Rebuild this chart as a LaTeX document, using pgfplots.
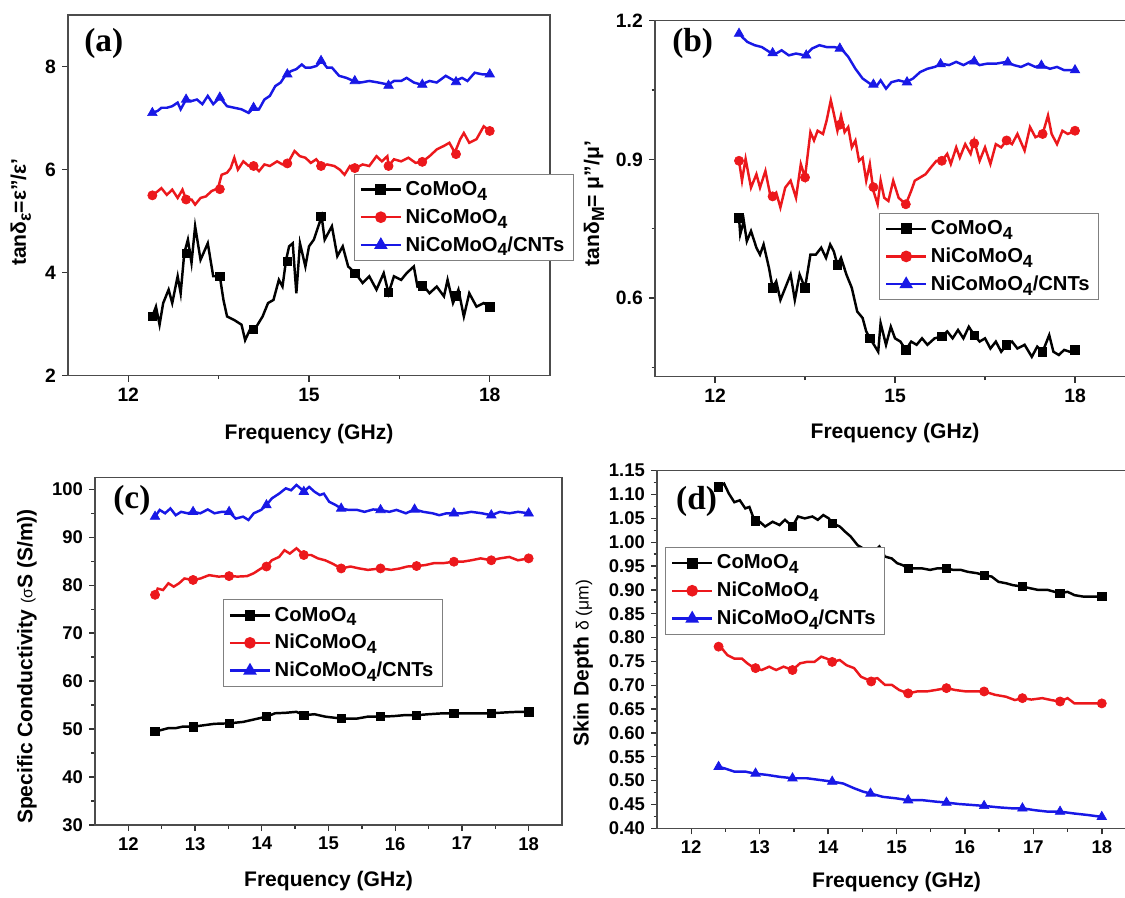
\documentclass[border=0pt]{standalone}
\usepackage{fontspec}
\setmainfont{Liberation Sans}
\newfontfamily\tnr{Liberation Serif}
\usepackage{pgfplots}
\pgfplotsset{compat=1.18}

\definecolor{cred}{RGB}{236,24,28}
\definecolor{cblue}{RGB}{24,24,230}
\newcommand{\sub}[1]{\raisebox{-0.45ex}{\fontsize{10}{10}\selectfont #1}}

\pgfplotsset{
  panel/.style={
    scale only axis,
    axis line style={line width=0.8pt, black!70},
    tick style={line width=0.8pt, black!80},
    tick align=outside,
    xtick pos=bottom, ytick pos=left,
    major tick length=0.12cm, minor tick length=0.07cm,
    tick label style={font=\bfseries\fontsize{11}{11}\selectfont},
    label style={font=\bfseries\fontsize{12}{12}\selectfont},
    /pgf/number format/assume math mode=true,
    xlabel={Frequency (GHz)},
    legend cell align=left,
    legend style={draw=black!50, line width=0.6pt, anchor=north west,
      font=\bfseries\fontsize{11.5}{12}\selectfont,
      row sep=2pt, inner xsep=3pt, inner ysep=2pt},
    legend image code/.code={\draw[mark repeat=2,mark phase=2,#1]
      plot coordinates {(0cm,0cm) (0.4cm,0cm) (0.8cm,0cm)};},
  },
  lk/.style={black, line width=1.4pt, mark=none},
  lr/.style={cred, line width=1.4pt, mark=none},
  lb/.style={cblue, line width=1.4pt, mark=none},
  mk/.style={black, only marks, mark=square*, mark size=2.4pt},
  mr/.style={cred, only marks, mark=*, mark size=2.6pt},
  mb/.style={cblue, only marks, mark=triangle*, mark size=3.1pt},
}

\begin{document}
\begin{tikzpicture}
\useasboundingbox (0,0) rectangle (22.5,17.94);
\clip (0,0) rectangle (22.5,17.94);

% ---------------- (a) dielectric loss tangent
\begin{axis}[panel, at={(1.36cm,10.426cm)}, anchor=south west,
  width=9.64cm, height=7.214cm,
  xmin=11, xmax=19, ymin=2, ymax=9,
  xtick={12,15,18}, minor xtick={13.5,16.5},
  ytick={2,4,6,8},
  ylabel={tanδ\sub{ε}=ε"/ε'},
  xlabel style={at={(axis description cs:0.5,-0.161)}, anchor=center},
  ylabel style={at={(axis description cs:-0.098,0.453)}, anchor=center},
  legend style={at={(0.593,0.560)}},
]
\addlegendimage{lk, mark=square*, mark size=2.4pt}
\addlegendentry{CoMoO\sub{4}}
\addlegendimage{lr, mark=*, mark size=2.6pt}
\addlegendentry{NiCoMoO\sub{4}}
\addlegendimage{lb, mark=triangle*, mark size=3.1pt}
\addlegendentry{NiCoMoO\sub{4}/CNTs}
\addplot[lk, forget plot] coordinates {
(12.40,3.15)(12.46,3.34)(12.52,2.99)(12.58,3.41)(12.67,3.67)(12.73,3.41)(12.82,3.93)
(12.87,3.60)(12.93,4.38)(12.99,4.64)(13.05,4.19)(13.11,4.90)(13.20,4.25)(13.32,4.57)
(13.41,3.93)(13.52,3.93)(13.58,3.47)(13.64,3.15)(13.76,3.08)(13.88,2.99)(13.94,2.69)
(14.03,2.92)(14.11,2.92)(14.23,3.15)(14.32,3.41)(14.41,3.47)(14.50,3.86)(14.56,3.73)
(14.62,4.25)(14.67,4.51)(14.73,4.57)(14.79,3.60)(14.85,4.57)(14.94,4.12)(15.00,4.51)
(15.08,4.64)(15.21,5.09)(15.26,4.64)(15.38,4.90)(15.47,4.32)(15.56,4.51)(15.65,4.12)
(15.77,3.99)(15.89,3.80)(16.00,3.93)(16.12,3.67)(16.24,3.99)(16.32,3.60)(16.41,3.93)
(16.53,3.86)(16.62,3.99)(16.74,4.12)(16.80,3.73)(16.89,3.76)(17.00,3.60)(17.12,3.73)
(17.24,3.54)(17.30,3.86)(17.39,3.41)(17.48,3.67)(17.57,3.15)(17.66,3.60)(17.78,3.34)
(17.90,3.41)(18.00,3.34)};
\addplot[mk, forget plot] coordinates {
(12.40,3.15)(12.96,4.38)(13.52,3.93)(14.08,2.90)(14.64,4.22)(15.20,5.09)
(15.76,3.99)(16.32,3.62)(16.88,3.74)(17.44,3.55)(18.00,3.34)};
\addplot[lr, forget plot] coordinates {
(12.40,5.50)(12.49,5.58)(12.55,5.64)(12.64,5.51)(12.73,5.61)(12.82,5.45)(12.90,5.61)
(12.96,5.42)(13.05,5.42)(13.11,5.32)(13.20,5.45)(13.29,5.48)(13.38,5.58)(13.49,5.64)
(13.55,5.90)(13.64,5.94)(13.70,6.03)(13.76,6.23)(13.82,6.00)(13.91,6.16)(14.00,6.07)
(14.08,6.07)(14.17,5.97)(14.26,6.10)(14.35,6.07)(14.47,6.16)(14.56,6.10)(14.65,6.13)
(14.76,6.36)(14.85,6.26)(14.94,6.23)(15.03,6.13)(15.12,6.20)(15.21,6.07)(15.30,6.10)
(15.42,6.07)(15.51,6.00)(15.59,5.90)(15.68,6.07)(15.77,6.03)(15.89,6.10)(16.00,6.07)
(16.12,6.26)(16.21,6.16)(16.30,6.26)(16.32,6.07)(16.41,6.20)(16.53,6.16)(16.65,6.23)
(16.77,6.13)(16.89,6.16)(17.00,6.26)(17.12,6.39)(17.24,6.46)(17.33,6.52)(17.42,6.33)
(17.51,6.59)(17.57,6.71)(17.66,6.52)(17.78,6.59)(17.90,6.84)(18.00,6.75)};
\addplot[mr, forget plot] coordinates {
(12.40,5.50)(12.96,5.42)(13.52,5.62)(14.08,6.07)(14.64,6.12)(15.20,6.07)
(15.76,6.03)(16.32,6.07)(16.88,6.15)(17.44,6.30)(18.00,6.75)};
\addplot[lb, forget plot] coordinates {
(12.40,7.10)(12.49,7.14)(12.55,7.20)(12.64,7.20)(12.73,7.23)(12.82,7.30)(12.87,7.17)
(12.96,7.36)(13.05,7.33)(13.14,7.36)(13.23,7.27)(13.32,7.43)(13.41,7.27)(13.52,7.40)
(13.64,7.23)(13.76,7.20)(13.88,7.17)(14.00,7.10)(14.08,7.20)(14.17,7.17)(14.26,7.36)
(14.35,7.43)(14.44,7.62)(14.53,7.69)(14.62,7.85)(14.70,7.91)(14.79,7.95)(14.88,8.04)
(14.94,7.98)(15.03,7.98)(15.12,8.01)(15.21,8.11)(15.30,7.98)(15.38,7.98)(15.50,7.82)
(15.62,7.78)(15.74,7.72)(15.86,7.69)(16.00,7.72)(16.15,7.69)(16.32,7.65)(16.41,7.72)
(16.53,7.72)(16.62,7.78)(16.74,7.69)(16.86,7.65)(17.00,7.72)(17.12,7.69)(17.27,7.82)
(17.42,7.72)(17.54,7.78)(17.63,7.72)(17.75,7.88)(17.87,7.85)(18.00,7.85)};
\addplot[mb, forget plot] coordinates {
(12.40,7.10)(12.96,7.36)(13.52,7.40)(14.08,7.20)(14.64,7.85)(15.20,8.11)
(15.76,7.72)(16.32,7.63)(16.88,7.65)(17.44,7.70)(18.00,7.85)};
\node[anchor=west, font=\tnr\bfseries\fontsize{19}{19}\selectfont]
  at (rel axis cs:0.021,0.922) {(a)};
\end{axis}

% ---------------- (b) magnetic loss tangent
\begin{axis}[panel, at={(13.10cm,10.406cm)}, anchor=south west,
  width=9.60cm, height=7.12cm,
  xmin=11, xmax=19, ymin=0.43, ymax=1.2,
  xtick={12,15,18}, minor xtick={13.5,16.5},
  ytick={0.6,0.9,1.2}, minor ytick={0.45,0.75,1.05},
  yticklabel style={/pgf/number format/.cd, fixed, fixed zerofill, precision=1},
  ylabel={tanδ\sub{M}= μ"/μ'},
  xlabel style={at={(axis description cs:0.5,-0.158)}, anchor=center},
  ylabel style={at={(axis description cs:-0.127,0.486)}, anchor=center},
  legend style={at={(0.467,0.460)}},
]
\addlegendimage{lk, mark=square*, mark size=2.4pt}
\addlegendentry{CoMoO\sub{4}}
\addlegendimage{lr, mark=*, mark size=2.6pt}
\addlegendentry{NiCoMoO\sub{4}}
\addlegendimage{lb, mark=triangle*, mark size=3.1pt}
\addlegendentry{NiCoMoO\sub{4}/CNTs}
\addplot[lb, forget plot] coordinates {
(12.40,1.176)(12.45,1.165)(12.54,1.154)(12.66,1.147)(12.78,1.143)(12.90,1.133)(13.02,1.129)
(13.11,1.136)(13.23,1.125)(13.35,1.129)(13.50,1.125)(13.62,1.140)(13.74,1.147)(13.86,1.143)
(13.98,1.143)(14.10,1.140)(14.22,1.122)(14.34,1.096)(14.46,1.075)(14.58,1.064)(14.70,1.060)
(14.76,1.071)(14.85,1.053)(14.94,1.067)(15.06,1.071)(15.18,1.067)(15.30,1.075)(15.42,1.089)
(15.54,1.096)(15.66,1.100)(15.78,1.107)(15.90,1.104)(16.02,1.111)(16.14,1.104)(16.29,1.114)
(16.41,1.104)(16.53,1.107)(16.68,1.107)(16.86,1.111)(16.98,1.104)(17.10,1.100)(17.22,1.107)
(17.34,1.100)(17.43,1.104)(17.58,1.096)(17.70,1.100)(17.82,1.093)(18.00,1.093)};
\addplot[mb, forget plot] coordinates {
(12.40,1.172)(12.96,1.130)(13.52,1.125)(14.08,1.140)(14.64,1.062)(15.20,1.067)
(15.76,1.106)(16.32,1.112)(16.88,1.110)(17.44,1.103)(18.00,1.093)};
\addplot[lr, forget plot] coordinates {
(12.40,0.897)(12.45,0.854)(12.51,0.901)(12.60,0.839)(12.69,0.868)(12.75,0.839)(12.84,0.875)
(12.93,0.817)(13.02,0.828)(13.09,0.796)(13.17,0.839)(13.26,0.854)(13.35,0.817)(13.43,0.890)
(13.50,0.861)(13.59,0.959)(13.65,0.941)(13.71,0.962)(13.80,0.955)(13.86,0.984)(13.93,1.028)
(13.98,0.999)(14.04,0.962)(14.10,0.995)(14.16,0.959)(14.22,0.970)(14.28,0.926)(14.34,0.941)
(14.40,0.897)(14.46,0.904)(14.52,0.854)(14.58,0.890)(14.64,0.832)(14.71,0.803)(14.76,0.854)
(14.82,0.817)(14.89,0.810)(14.97,0.854)(15.06,0.817)(15.18,0.803)(15.27,0.832)(15.33,0.854)
(15.42,0.861)(15.51,0.868)(15.60,0.883)(15.69,0.897)(15.78,0.897)(15.87,0.912)(15.93,0.890)
(16.02,0.926)(16.08,0.904)(16.17,0.933)(16.26,0.912)(16.32,0.941)(16.41,0.897)(16.50,0.926)
(16.59,0.890)(16.68,0.933)(16.77,0.926)(16.86,0.941)(16.95,0.933)(17.04,0.955)(17.16,0.919)
(17.25,0.970)(17.34,0.948)(17.46,0.955)(17.55,0.995)(17.61,0.955)(17.70,0.933)(17.79,0.962)
(17.88,0.955)(18.00,0.962)};
\addplot[mr, forget plot] coordinates {
(12.40,0.897)(12.96,0.820)(13.50,0.861)(14.08,0.975)(14.64,0.840)(15.18,0.803)
(15.78,0.897)(16.32,0.935)(16.86,0.941)(17.46,0.955)(18.00,0.962)};
\addplot[lk, forget plot] coordinates {
(12.40,0.774)(12.42,0.738)(12.48,0.767)(12.53,0.723)(12.60,0.745)(12.69,0.709)(12.75,0.694)
(12.81,0.716)(12.90,0.665)(12.96,0.622)(13.02,0.636)(13.09,0.596)(13.17,0.622)(13.26,0.651)
(13.33,0.596)(13.41,0.651)(13.50,0.622)(13.59,0.694)(13.68,0.694)(13.77,0.709)(13.85,0.687)
(13.92,0.716)(13.98,0.701)(14.04,0.672)(14.10,0.687)(14.19,0.651)(14.28,0.622)(14.37,0.571)
(14.46,0.557)(14.52,0.528)(14.58,0.513)(14.65,0.499)(14.72,0.484)(14.76,0.546)(14.85,0.499)
(14.93,0.538)(15.00,0.513)(15.09,0.506)(15.18,0.488)(15.27,0.506)(15.36,0.499)(15.45,0.513)
(15.54,0.499)(15.66,0.513)(15.78,0.517)(15.87,0.528)(15.96,0.513)(16.05,0.531)(16.14,0.513)
(16.23,0.538)(16.32,0.520)(16.41,0.506)(16.50,0.513)(16.59,0.491)(16.68,0.506)(16.77,0.484)
(16.86,0.499)(16.95,0.506)(17.04,0.491)(17.16,0.499)(17.28,0.473)(17.37,0.495)(17.46,0.484)
(17.57,0.520)(17.64,0.484)(17.73,0.477)(17.82,0.488)(17.91,0.484)(18.00,0.488)};
\addplot[mk, forget plot] coordinates {
(12.40,0.774)(12.96,0.622)(13.50,0.622)(14.04,0.672)(14.58,0.513)(15.18,0.488)
(15.78,0.517)(16.32,0.520)(16.86,0.499)(17.46,0.484)(18.00,0.488)};
\node[anchor=west, font=\tnr\bfseries\fontsize{19}{19}\selectfont]
  at (rel axis cs:0.023,0.935) {(b)};
\end{axis}

% ---------------- (c) specific conductivity
\begin{axis}[panel, at={(1.90cm,1.44cm)}, anchor=south west,
  width=9.34cm, height=6.954cm,
  xmin=11.5, xmax=18.5, ymin=30, ymax=102.5,
  xtick={12,13,...,18}, minor xtick={12.5,13.5,...,17.5},
  ytick={30,40,...,100}, minor ytick={35,45,...,95},
  tick label style={font=\bfseries\fontsize{10.5}{10.5}\selectfont},
  ylabel={Specific Conductivity {\mdseries\fontsize{9}{9}\selectfont(σ}S (S/m))},
  xlabel style={at={(axis description cs:0.5,-0.162)}, anchor=center},
  ylabel style={at={(axis description cs:-0.146,0.456)}, anchor=center},
  legend style={at={(0.274,0.649)}},
]
\addlegendimage{lk, mark=square*, mark size=2.4pt}
\addlegendentry{CoMoO\sub{4}}
\addlegendimage{lr, mark=*, mark size=2.6pt}
\addlegendentry{NiCoMoO\sub{4}}
\addlegendimage{lb, mark=triangle*, mark size=3.1pt}
\addlegendentry{NiCoMoO\sub{4}/CNTs}
\addplot[lb, forget plot] coordinates {
(12.40,94.3)(12.47,95.7)(12.55,95.0)(12.63,96.0)(12.71,94.6)(12.79,95.3)(12.89,95.0)
(12.97,95.3)(13.08,95.0)(13.19,95.8)(13.29,95.0)(13.40,95.3)(13.51,95.3)(13.61,93.9)
(13.72,94.3)(13.80,93.6)(13.88,95.0)(13.99,95.7)(14.07,96.7)(14.15,98.1)(14.26,99.1)
(14.36,100.2)(14.44,99.8)(14.52,100.9)(14.58,100.2)(14.63,99.5)(14.71,100.5)(14.79,99.5)
(14.87,98.8)(14.93,99.1)(15.01,97.4)(15.11,96.7)(15.19,96.0)(15.30,95.7)(15.43,95.7)
(15.54,95.3)(15.67,95.8)(15.78,95.7)(15.91,95.3)(16.02,95.7)(16.16,95.0)(16.29,95.8)
(16.42,95.3)(16.56,95.0)(16.66,94.6)(16.77,95.0)(16.88,95.0)(17.01,95.0)(17.14,95.3)
(17.30,95.0)(17.44,94.6)(17.57,95.3)(17.71,95.0)(17.84,95.3)(18.00,95.0)};
\addplot[mb, forget plot] coordinates {
(12.40,94.3)(12.97,95.3)(13.51,95.3)(14.07,96.7)(14.63,99.5)(15.19,96.0)
(15.78,95.7)(16.29,95.8)(16.88,95.0)(17.44,94.6)(18.00,95.0)};
\addplot[lr, forget plot] coordinates {
(12.40,78.0)(12.44,79.3)(12.52,79.0)(12.60,80.4)(12.68,79.7)(12.76,80.4)(12.84,81.4)
(12.97,81.1)(13.08,81.4)(13.21,82.1)(13.35,81.8)(13.51,81.9)(13.64,81.8)(13.78,81.9)
(13.88,82.5)(13.99,83.5)(14.07,83.9)(14.15,85.2)(14.26,85.9)(14.34,87.3)(14.42,86.6)
(14.52,87.7)(14.63,86.3)(14.74,86.3)(14.84,85.6)(14.95,85.2)(15.06,84.5)(15.19,83.5)
(15.33,83.9)(15.46,83.5)(15.59,83.2)(15.78,83.5)(15.94,83.2)(16.07,83.5)(16.18,83.9)
(16.32,84.0)(16.45,84.2)(16.58,84.6)(16.72,84.6)(16.88,84.9)(17.01,84.9)(17.14,85.2)
(17.28,85.6)(17.44,85.2)(17.57,85.6)(17.71,85.9)(17.84,85.2)(18.00,85.6)};
\addplot[mr, forget plot] coordinates {
(12.40,78.0)(12.97,81.1)(13.51,81.9)(14.07,83.9)(14.63,86.3)(15.19,83.5)
(15.78,83.5)(16.32,84.0)(16.88,84.9)(17.44,85.2)(18.00,85.6)};
\addplot[lk, forget plot] coordinates {
(12.40,49.5)(12.49,49.8)(12.60,50.2)(12.71,50.2)(12.81,50.5)(12.97,50.5)(13.13,50.8)
(13.29,51.1)(13.51,51.2)(13.72,51.5)(13.88,52.0)(14.07,52.6)(14.20,53.3)(14.36,53.4)
(14.52,53.6)(14.63,52.9)(14.79,53.1)(14.95,52.6)(15.19,52.2)(15.43,52.2)(15.59,52.6)
(15.78,52.6)(15.97,52.7)(16.13,52.9)(16.32,52.9)(16.50,53.1)(16.72,53.3)(16.88,53.3)
(17.14,53.3)(17.44,53.3)(17.68,53.5)(17.84,53.6)(18.00,53.6)};
\addplot[mk, forget plot] coordinates {
(12.40,49.5)(12.97,50.5)(13.51,51.2)(14.07,52.6)(14.63,52.9)(15.19,52.2)
(15.78,52.6)(16.32,52.9)(16.88,53.3)(17.44,53.3)(18.00,53.6)};
\node[anchor=west, font=\tnr\bfseries\fontsize{19}{19}\selectfont]
  at (rel axis cs:0.026,0.933) {(c)};
\end{axis}

% ---------------- (d) skin depth
\begin{axis}[panel, at={(13.14cm,1.374cm)}, anchor=south west,
  width=9.58cm, height=7.152cm,
  xmin=11.5, xmax=18.5, ymin=0.40, ymax=1.15,
  xtick={12,13,...,18}, minor xtick={12.5,13.5,...,17.5},
  ytick={0.40,0.45,...,1.16}, minor tick num=1,
  tick label style={font=\bfseries\fontsize{10.5}{10.5}\selectfont},
  yticklabel style={/pgf/number format/.cd, fixed, fixed zerofill, precision=2},
  ylabel={Skin Depth {\mdseries\fontsize{10}{10}\selectfont δ (μm)}},
  xlabel style={at={(axis description cs:0.5,-0.150)}, anchor=center},
  ylabel style={at={(axis description cs:-0.154,0.462)}, anchor=center},
  legend style={at={(0.017,0.786)}},
]
\addlegendimage{lk, mark=square*, mark size=2.4pt}
\addlegendentry{CoMoO\sub{4}}
\addlegendimage{lr, mark=*, mark size=2.6pt}
\addlegendentry{NiCoMoO\sub{4}}
\addlegendimage{lb, mark=triangle*, mark size=3.1pt}
\addlegendentry{NiCoMoO\sub{4}/CNTs}
\addplot[lk, forget plot] coordinates {
(12.40,1.116)(12.48,1.123)(12.55,1.102)(12.63,1.084)(12.71,1.088)(12.79,1.071)(12.85,1.074)
(12.92,1.047)(13.00,1.043)(13.08,1.033)(13.19,1.043)(13.29,1.036)(13.37,1.047)(13.48,1.033)
(13.56,1.054)(13.66,1.050)(13.77,1.054)(13.85,1.047)(13.93,1.057)(14.01,1.050)(14.06,1.040)
(14.17,1.033)(14.25,1.022)(14.33,1.012)(14.43,0.994)(14.51,0.987)(14.59,0.980)(14.70,0.984)
(14.75,0.991)(14.83,0.970)(14.93,0.966)(15.01,0.956)(15.09,0.952)(15.17,0.945)(15.28,0.945)
(15.38,0.945)(15.49,0.942)(15.59,0.945)(15.73,0.945)(15.83,0.942)(15.94,0.942)(16.04,0.938)
(16.18,0.935)(16.28,0.931)(16.39,0.928)(16.49,0.917)(16.60,0.914)(16.70,0.910)(16.84,0.907)
(16.97,0.903)(17.07,0.900)(17.21,0.900)(17.31,0.896)(17.39,0.893)(17.50,0.896)(17.60,0.889)
(17.73,0.886)(17.87,0.886)(18.00,0.886)};
\addplot[mk, forget plot] coordinates {
(12.40,1.116)(12.94,1.045)(13.48,1.033)(14.06,1.040)(14.63,0.980)(15.17,0.945)
(15.73,0.945)(16.28,0.931)(16.84,0.907)(17.39,0.893)(18.00,0.886)};
\addplot[lr, forget plot] coordinates {
(12.40,0.781)(12.45,0.777)(12.53,0.763)(12.63,0.756)(12.74,0.756)(12.82,0.746)(12.92,0.736)
(13.03,0.732)(13.14,0.739)(13.24,0.732)(13.35,0.739)(13.48,0.732)(13.59,0.746)(13.69,0.749)
(13.80,0.749)(13.90,0.760)(13.98,0.756)(14.06,0.749)(14.17,0.753)(14.27,0.742)(14.38,0.736)
(14.48,0.718)(14.59,0.711)(14.72,0.715)(14.83,0.701)(14.93,0.701)(15.04,0.690)(15.17,0.683)
(15.30,0.687)(15.44,0.687)(15.57,0.690)(15.73,0.694)(15.86,0.690)(16.02,0.687)(16.15,0.687)
(16.28,0.687)(16.44,0.680)(16.60,0.676)(16.73,0.669)(16.84,0.673)(16.97,0.670)(17.13,0.673)
(17.26,0.669)(17.39,0.666)(17.50,0.673)(17.60,0.662)(17.73,0.662)(17.87,0.662)(18.00,0.662)};
\addplot[mr, forget plot] coordinates {
(12.40,0.781)(12.94,0.736)(13.48,0.732)(14.06,0.749)(14.63,0.708)(15.17,0.683)
(15.73,0.694)(16.28,0.687)(16.84,0.673)(17.39,0.666)(18.00,0.662)};
\addplot[lb, forget plot] coordinates {
(12.40,0.529)(12.48,0.526)(12.63,0.519)(12.79,0.519)(12.92,0.515)(13.11,0.512)(13.29,0.508)
(13.48,0.505)(13.69,0.505)(13.90,0.501)(14.06,0.498)(14.22,0.494)(14.38,0.484)(14.51,0.477)
(14.62,0.473)(14.80,0.466)(14.99,0.463)(15.17,0.459)(15.38,0.459)(15.57,0.456)(15.73,0.454)
(15.91,0.451)(16.10,0.449)(16.28,0.447)(16.49,0.444)(16.68,0.442)(16.84,0.442)(17.02,0.438)
(17.21,0.435)(17.39,0.435)(17.60,0.431)(17.79,0.428)(18.00,0.424)};
\addplot[mb, forget plot] coordinates {
(12.40,0.529)(12.94,0.515)(13.48,0.505)(14.06,0.498)(14.62,0.473)(15.17,0.459)
(15.73,0.454)(16.28,0.447)(16.84,0.442)(17.39,0.435)(18.00,0.424)};
\node[anchor=west, font=\tnr\bfseries\fontsize{19}{19}\selectfont]
  at (rel axis cs:0.027,0.915) {(d)};
\end{axis}
\end{tikzpicture}
\end{document}
